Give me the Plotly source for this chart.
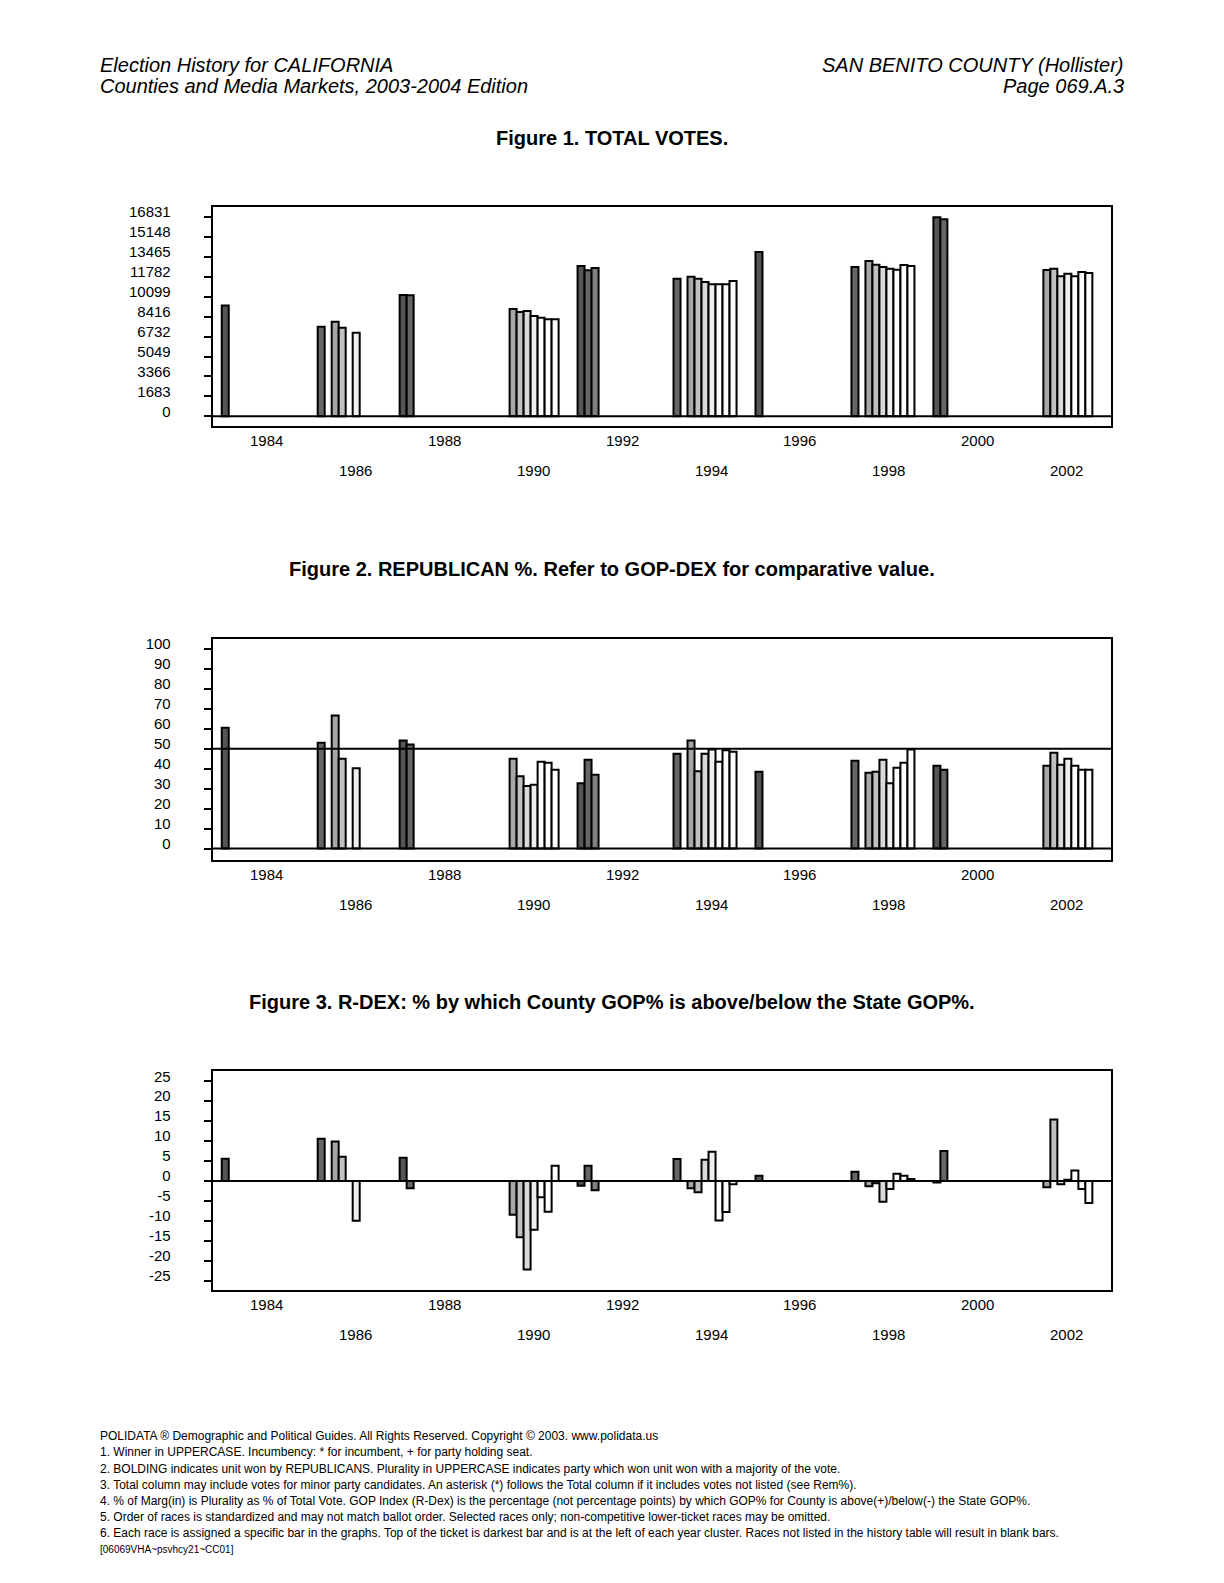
import plotly.graph_objects as go

# ---------------- data ----------------
# each race: election year, slot within the year cluster (0 = President, 1-2 = US Senate,
# 3 = Governor, 4.. = lower statewide offices)
race_year = [1984,
             1986, 1986, 1986, 1986,
             1988, 1988,
             1990, 1990, 1990, 1990, 1990, 1990, 1990,
             1992, 1992, 1992,
             1994, 1994, 1994, 1994, 1994, 1994, 1994, 1994,
             1996,
             1998, 1998, 1998, 1998, 1998, 1998, 1998, 1998,
             2000, 2000,
             2002, 2002, 2002, 2002, 2002, 2002, 2002]
race_slot = [0,
             1, 3, 4, 6,
             0, 1,
             3, 4, 5, 6, 7, 8, 9,
             0, 1, 2,
             1, 3, 4, 5, 6, 7, 8, 9,
             0,
             1, 3, 4, 5, 6, 7, 8, 9,
             0, 1,
             3, 4, 5, 6, 7, 8, 9]
total_votes = [9358,
               7560, 7980, 7475, 7053,
               10260, 10230,
               9076, 8823, 8908, 8486, 8318, 8205, 8205,
               12701, 12336, 12533,
               11633, 11802, 11633, 11352, 11156, 11156, 11156, 11437,
               13881,
               12617, 13123, 12814, 12617, 12476, 12392, 12786, 12701,
               16831, 16663,
               12364, 12476, 11830, 12055, 11830, 12195, 12111]
gop_pct = [60.5,
           53.0, 66.7, 45.0, 40.2,
           54.2, 52.2,
           45.0, 36.3, 31.3, 32.0, 43.5, 43.0, 39.5,
           32.7, 44.5, 37.0,
           47.5, 54.2, 38.8, 47.5, 49.7, 43.5, 49.3, 48.5,
           38.5,
           44.0, 38.0, 38.5, 44.5, 32.7, 40.5, 43.0, 49.7,
           41.5, 39.5,
           41.5, 48.0, 42.0, 45.0, 41.5, 39.5, 39.5]
rdex = [5.6,
        10.6, 9.9, 6.1, -10.0,
        5.8, -1.8,
        -8.5, -14.1, -22.2, -12.2, -4.1, -7.7, 3.8,
        -1.2, 3.8, -2.3,
        5.5, -1.8, -2.8, 5.3, 7.3, -9.9, -7.8, -0.8,
        1.3,
        2.3, -1.3, -0.6, -5.2, -2.0, 1.8, 1.3, 0.5,
        -0.4, 7.5,
        -1.6, 15.4, -0.8, 0.3, 2.6, -2.0, -5.5]

slot_colors = ["#555555", "#666666", "#808080", "#a6a6a6", "#c0c0c0",
               "#d9d9d9", "#efefef", "#ffffff", "#ffffff", "#ffffff"]

year_labels = [1984, 1986, 1988, 1990, 1992, 1994, 1996, 1998, 2000, 2002]
vote_ticks = [0, 1683, 3366, 5049, 6732, 8416, 10099, 11782, 13465, 15148, 16831]
pct_ticks = [0, 10, 20, 30, 40, 50, 60, 70, 80, 90, 100]
rdex_ticks = [-25, -20, -15, -10, -5, 0, 5, 10, 15, 20, 25]

titles = ["Figure 1. TOTAL VOTES.",
          "Figure 2. REPUBLICAN %. Refer to GOP-DEX for comparative value.",
          "Figure 3. R-DEX: % by which County GOP% is above/below the State GOP%."]

footer_lines = [
    "POLIDATA \u00ae Demographic and Political Guides. All Rights Reserved. Copyright \u00a9 2003. www.polidata.us",
    "1. Winner in UPPERCASE. Incumbency: * for incumbent, + for party holding seat.",
    "2. BOLDING indicates unit won by REPUBLICANS. Plurality in UPPERCASE indicates party which won unit won with a majority of the vote.",
    "3. Total column may include votes for minor party candidates. An asterisk (*) follows the Total column if it includes votes not listed (see Rem%).",
    "4. % of Marg(in) is Plurality as % of Total Vote. GOP Index (R-Dex) is the percentage (not percentage points) by which GOP% for County is above(+)/below(-) the State GOP%.",
    "5. Order of races is standardized and may not match ballot order. Selected races only; non-competitive lower-ticket races may be omitted.",
    "6. Each race is assigned a specific bar in the graphs. Top of the ticket is darkest bar and is at the left of each year cluster. Races not listed in the history table will result in blank bars.",
]
footer_code = "[06069VHA~psvhcy21~CC01]"

# ---------------- layout constants ----------------
W, H = 1224, 1583
FONT = "Liberation Sans, Arial, sans-serif"
SLOT_W = 0.1574               # width of one bar slot, in years
X_RANGE = [1982.797, 2002.993]
X_DOM = [212.7 / W, 1111.0 / W]
# (top px, bottom px) of each plot frame
FRAMES = [(203.7, 423.0), (636.7, 858.5), (1070.0, 1289.5)]
Y_RANGES = [[-818, 17674], [-5.9, 105], [-27.4, 27.5]]
TITLE_Y = [134.4, 566.6, 1001.0]
YEAR_SHIFT = (-14.5, -44.5)


def py(px):
    return 1 - px / H


xpos = [y - 1 + (s + 0.5) * SLOT_W for y, s in zip(race_year, race_slot)]
colors = [slot_colors[s] for s in race_slot]

fig = go.Figure()
series = [total_votes, gop_pct, rdex]
ticks = [vote_ticks, pct_ticks, rdex_ticks]

for i, vals in enumerate(series):
    n = "" if i == 0 else str(i + 1)
    fig.add_trace(go.Bar(
        x=xpos, y=vals, width=SLOT_W,
        marker=dict(color=colors, line=dict(color="black", width=2)),
        xaxis="x" + n, yaxis="y" + n, showlegend=False, hoverinfo="skip"))
    top, bot = FRAMES[i]
    fig.layout["xaxis" + n] = dict(
        domain=X_DOM, range=X_RANGE, anchor="y" + n,
        showline=True, mirror=True, linecolor="black", linewidth=2,
        showgrid=False, zeroline=False, showticklabels=False, ticks="")
    fig.layout["yaxis" + n] = dict(
        domain=[py(bot), py(top)], range=Y_RANGES[i], anchor="x" + n,
        tickvals=ticks[i], ticktext=[str(t) for t in ticks[i]],
        ticks="outside", ticklen=7, tickwidth=2, tickcolor="black",
        showline=True, mirror=True, linecolor="black", linewidth=2,
        showgrid=False, zeroline=False,
        tickfont=dict(family=FONT, size=15, color="black"),
        ticklabelstandoff=30, ticklabelshift=-5)
    # zero line
    fig.add_shape(type="line", xref="x" + n + " domain", yref="y" + n,
                  x0=0, x1=1, y0=0, y1=0, layer="above",
                  line=dict(color="black", width=2))
    if i == 1:
        fig.add_shape(type="line", xref="x2 domain", yref="y2",
                      x0=0, x1=1, y0=50, y1=50, layer="above",
                      line=dict(color="black", width=2))
    # year labels, alternating rows
    for k, yr in enumerate(year_labels):
        fig.add_annotation(x=yr, y=0, xref="x" + n, yref="y" + n + " domain",
                           text=str(yr), showarrow=False, xanchor="center",
                           yanchor="middle", yshift=YEAR_SHIFT[k % 2],
                           font=dict(family=FONT, size=15, color="black"))
    # figure title
    fig.add_annotation(x=0.5, y=py(TITLE_Y[i]), xref="paper", yref="paper",
                       text="<b>" + titles[i] + "</b>", showarrow=False,
                       xanchor="center", yanchor="middle",
                       font=dict(family=FONT, size=20, color="black"))

# header
hdr_font = dict(family=FONT, size=20, color="black")
for txt, x, xa, y in [("Election History for CALIFORNIA", 98, "left", 60.7),
                      ("Counties and Media Markets, 2003-2004 Edition", 98, "left", 81.9),
                      ("SAN BENITO COUNTY (Hollister)", 1126, "right", 60.7),
                      ("Page 069.A.3", 1126, "right", 81.9)]:
    fig.add_annotation(x=x / W, y=py(y), xref="paper", yref="paper",
                       text="<i>" + txt + "</i>", showarrow=False,
                       xanchor=xa, yanchor="middle", font=hdr_font)

# footer
for k, line in enumerate(footer_lines):
    fig.add_annotation(x=98 / W, y=py(1436.0 + 16.16 * k), xref="paper", yref="paper",
                       text=line, showarrow=False, xanchor="left", yanchor="middle",
                       font=dict(family=FONT, size=12, color="black"))
fig.add_annotation(x=98 / W, y=py(1436.0 + 16.16 * 7), xref="paper", yref="paper",
                   text=footer_code, showarrow=False, xanchor="left", yanchor="middle",
                   font=dict(family=FONT, size=10, color="black"))

fig.update_layout(width=W, height=H, margin=dict(l=0, r=0, t=0, b=0),
                  paper_bgcolor="white", plot_bgcolor="white",
                  barmode="overlay", showlegend=False)

fig.write_html("out.html", config={"displayModeBar": False},
               post_script="document.body.style.margin='0px';")
